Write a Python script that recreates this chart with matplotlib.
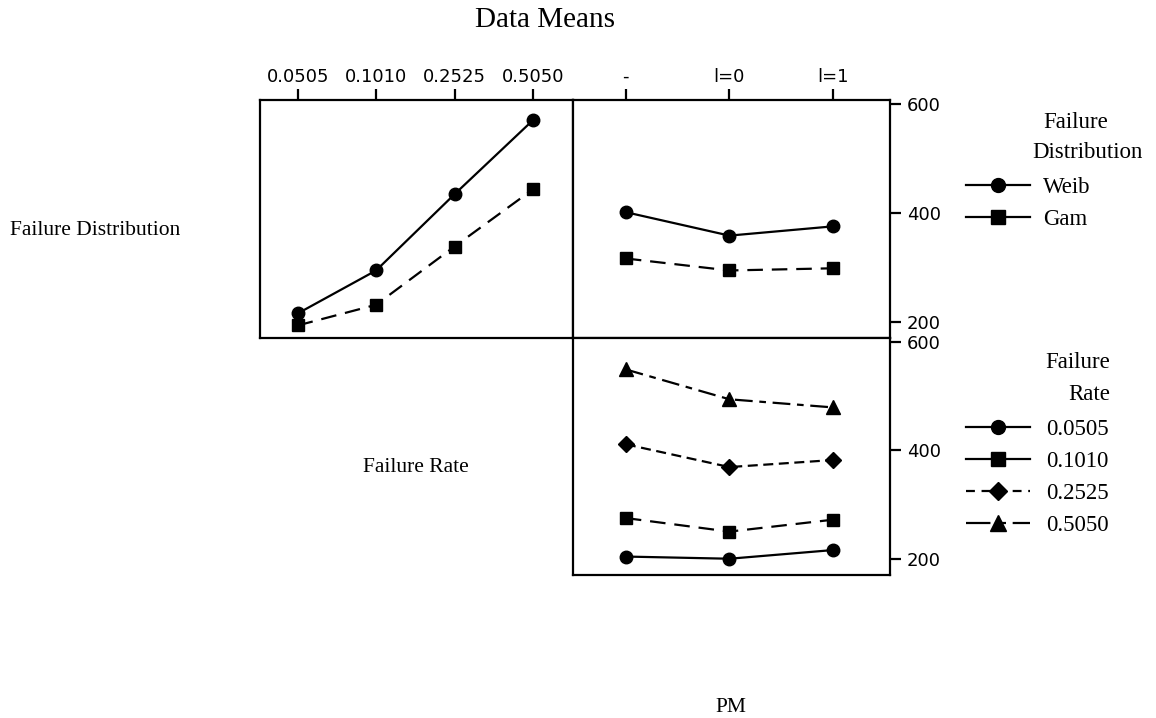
import matplotlib
matplotlib.use("Agg")
import matplotlib.pyplot as plt
from matplotlib.lines import Line2D

# ---- data ----
fr_levels = ['0.0505', '0.1010', '0.2525', '0.5050']
pm_levels = ['-', 'l=0', 'l=1']
fd_levels = ['Weib', 'Gam']

weib_by_fr = [215, 294, 434, 570]
gam_by_fr = [193, 231, 338, 443]

weib_by_pm = [401, 358, 375]
gam_by_pm = [316, 294, 298]

fr0505_by_pm = [204, 200, 216]
fr1010_by_pm = [275, 250, 272]
fr2525_by_pm = [411, 369, 382]
fr5050_by_pm = [549, 494, 479]

y_ticks = [200, 400, 600]

# ---- figure ----
W, H = 1156, 718
fig = plt.figure(figsize=(W / 100, H / 100), dpi=100)
SERIF = 'Liberation Serif'


def px_axes(x0, y0, x1, y1):
    return fig.add_axes([x0 / W, 1 - y1 / H, (x1 - x0) / W, (y1 - y0) / H])


def fy(y):
    return 1 - y / H


def fx(x):
    return x / W


lw = 1.6
ms = 9
frame_lw = 1.6
long_dash = (0, (7, 4))
short_dash = (0, (4.5, 2.5))
dash_dot = (0, (8, 3, 3, 3))

ax1 = px_axes(260, 100, 573, 338)
ax2 = px_axes(573, 100, 890, 338)
ax3 = px_axes(573, 338, 890, 575)

for ax in (ax1, ax2, ax3):
    for s in ax.spines.values():
        s.set_linewidth(frame_lw)
    ax.set_ylim(170, 607)

# top-left: FD x FR
xs_fr = range(len(fr_levels))
ax1.plot(xs_fr, weib_by_fr, color='black', lw=lw, ls='-', marker='o', ms=ms)
ax1.plot(xs_fr, gam_by_fr, color='black', lw=lw, ls=long_dash, marker='s', ms=ms - 0.5)
ax1.set_xlim(-0.48, 3.51)
ax1.set_xticks(list(xs_fr))
ax1.set_xticklabels(fr_levels)
ax1.set_yticks([])
ax1.tick_params(axis='x', top=True, bottom=False, labeltop=True, labelbottom=False,
                direction='out', length=8, width=1.6, pad=2, labelsize=13)

# top-right: FD x PM
xs_pm = range(len(pm_levels))
ax2.plot(xs_pm, weib_by_pm, color='black', lw=lw, ls='-', marker='o', ms=ms)
ax2.plot(xs_pm, gam_by_pm, color='black', lw=lw, ls=long_dash, marker='s', ms=ms - 0.5)
ax2.set_xlim(-0.51, 2.55)
ax2.set_xticks(list(xs_pm))
ax2.set_xticklabels(pm_levels)
ax2.set_yticks(y_ticks)
ax2.tick_params(axis='x', top=True, bottom=False, labeltop=True, labelbottom=False,
                direction='out', length=8, width=1.6, pad=2, labelsize=13)
ax2.tick_params(axis='y', right=True, left=False, labelright=True, labelleft=False,
                direction='out', length=8, width=1.6, pad=4, labelsize=13)

# bottom-right: FR x PM
ax3.plot(xs_pm, fr0505_by_pm, color='black', lw=lw, ls='-', marker='o', ms=ms)
ax3.plot(xs_pm, fr1010_by_pm, color='black', lw=lw, ls=long_dash, marker='s', ms=ms - 0.5)
ax3.plot(xs_pm, fr2525_by_pm, color='black', lw=lw, ls=short_dash, marker='D', ms=ms - 1)
ax3.plot(xs_pm, fr5050_by_pm, color='black', lw=lw, ls=dash_dot, marker='^', ms=ms + 1)
ax3.set_xlim(-0.51, 2.55)
ax3.set_xticks([])
ax3.set_yticks(y_ticks)
ax3.tick_params(axis='y', right=True, left=False, labelright=True, labelleft=False,
                direction='out', length=8, width=1.6, pad=4, labelsize=13)

# ---- texts ----
fig.text(fx(545), fy(20), 'Data Means', family=SERIF, fontsize=21, ha='center', va='center')
fig.text(fx(10), fy(230), 'Failure Distribution', family=SERIF, fontsize=15.5, ha='left', va='center')
fig.text(fx(416), fy(467), 'Failure Rate', family=SERIF, fontsize=15.5, ha='center', va='center')
fig.text(fx(731), fy(708), 'PM', family=SERIF, fontsize=15.5, ha='center', va='center')

# ---- legends ----
LFS = 16.5
fig.text(fx(1043), fy(122), 'Failure', family=SERIF, fontsize=LFS, ha='left', va='center')
fig.text(fx(1032), fy(153), 'Distribution', family=SERIF, fontsize=LFS, ha='left', va='center')
leg1 = [Line2D([], [], color='black', lw=lw, ls='-', marker='o', ms=ms + 1),
        Line2D([], [], color='black', lw=lw, ls='-', marker='s', ms=ms + 0.5)]
fig.legend(leg1, fd_levels, loc='upper left', bbox_to_anchor=(fx(966), fy(177)),
           frameon=False, prop={'family': SERIF, 'size': LFS}, handlelength=2.8,
           handletextpad=0.55, labelspacing=0.48, borderpad=0, borderaxespad=0)

fig.text(fx(1110), fy(362), 'Failure', family=SERIF, fontsize=LFS, ha='right', va='center')
fig.text(fx(1110), fy(394), 'Rate', family=SERIF, fontsize=LFS, ha='right', va='center')
leg2 = [Line2D([], [], color='black', lw=lw, ls='-', marker='o', ms=ms + 1),
        Line2D([], [], color='black', lw=lw, ls='-', marker='s', ms=ms + 0.5),
        Line2D([], [], color='black', lw=lw, ls=(0, (4, 3)), marker='D', ms=ms),
        Line2D([], [], color='black', lw=lw, ls=(0, (11, 4, 3, 3)), marker='^', ms=ms + 2)]
fig.legend(leg2, fr_levels, loc='upper left', bbox_to_anchor=(fx(966), fy(419)),
           frameon=False, prop={'family': SERIF, 'size': LFS}, handlelength=2.8,
           handletextpad=0.7, labelspacing=0.48, borderpad=0, borderaxespad=0)

fig.savefig('out.png', dpi=100)
